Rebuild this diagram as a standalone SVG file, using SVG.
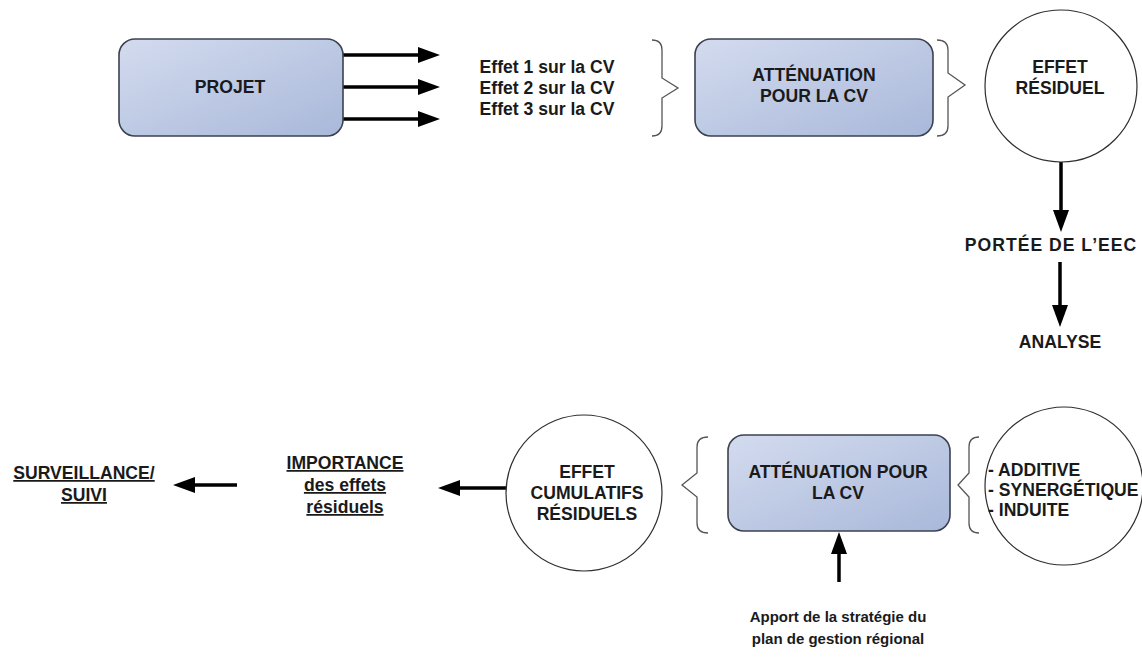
<svg xmlns="http://www.w3.org/2000/svg" width="1142" height="667" viewBox="0 0 1142 667">
  <defs>
    <linearGradient id="boxfill" x1="0" y1="0" x2="1" y2="1">
      <stop offset="0" stop-color="#d3dbee"/>
      <stop offset="1" stop-color="#a9b8da"/>
    </linearGradient>
    <marker id="ah" viewBox="0 0 22 16" refX="10" refY="8" markerWidth="22" markerHeight="16" markerUnits="userSpaceOnUse" orient="auto">
      <path d="M0,0 L22,8 L0,16 z" fill="#000"/>
    </marker>
    <style>
      .box { fill: url(#boxfill); stroke: #3c4150; stroke-width: 1.6; }
      .circ { fill: #fff; stroke: #2e2e2e; stroke-width: 1.2; }
      .brace { fill: none; stroke: #555; stroke-width: 1.3; }
      .arrow { stroke: #000; stroke-width: 3.5; fill: none; marker-end: url(#ah); }
      .t { font-family: "Liberation Sans", Arial, sans-serif; font-weight: bold; font-size: 17.6px; fill: #1a1a1a; text-anchor: middle; }
      .ts { font-size: 15px; }
      .u { text-decoration: underline; }
      .l { text-anchor: start; }
    </style>
  </defs>
  <rect width="1142" height="667" fill="#fff"/>

  <g id="connectors">
    <line class="arrow" x1="343" y1="55" x2="428" y2="55"/>
    <line class="arrow" x1="343" y1="87" x2="428" y2="87"/>
    <line class="arrow" x1="343" y1="119" x2="428" y2="119"/>
    <line class="arrow" x1="1061" y1="162" x2="1061" y2="220"/>
    <line class="arrow" x1="1060" y1="262" x2="1060" y2="315"/>
    <line class="arrow" x1="237" y1="485" x2="185" y2="485"/>
    <line class="arrow" x1="507" y1="488" x2="450" y2="488"/>
    <line class="arrow" x1="839" y1="582" x2="839" y2="544"/>
  </g>

  <g id="projet">
    <rect class="box" x="119" y="39" width="224" height="97" rx="16"/>
    <text class="t" x="230" y="93">PROJET</text>
  </g>

  <g id="effets">
    <text class="t" x="547" y="73">Effet 1 sur la CV</text>
    <text class="t" x="547" y="94">Effet 2 sur la CV</text>
    <text class="t" x="547" y="115">Effet 3 sur la CV</text>
  </g>

  <g id="brace1">
    <path class="brace" d="M652,40 Q662,40 662,50 L662,78 L678,88 L662,98 L662,126 Q662,136 652,136"/>
  </g>

  <g id="attenuation1">
    <rect class="box" x="695" y="39" width="238" height="97" rx="16"/>
    <text class="t" x="814" y="81">ATTÉNUATION</text>
    <text class="t" x="814" y="102">POUR LA CV</text>
  </g>

  <g id="brace2">
    <path class="brace" d="M937,40 Q948,40 948,50 L948,73 L965,85 L948,97 L948,126 Q948,136 937,136"/>
  </g>

  <g id="effet-residuel">
    <circle class="circ" cx="1061" cy="86" r="76"/>
    <text class="t" x="1060" y="73">EFFET</text>
    <text class="t" x="1060" y="94">RÉSIDUEL</text>
  </g>

  <g id="portee">
    <text class="t" x="1051" y="251" letter-spacing="1">PORTÉE DE L’EEC</text>
  </g>

  <g id="analyse">
    <text class="t" x="1060" y="348">ANALYSE</text>
  </g>

  <g id="surveillance">
    <text class="t u" x="84" y="479">SURVEILLANCE/</text>
    <text class="t u" x="84" y="501">SUIVI</text>
  </g>

  <g id="importance">
    <text class="t u" x="345" y="469">IMPORTANCE</text>
    <text class="t u" x="345" y="491">des effets</text>
    <text class="t u" x="345" y="513">résiduels</text>
  </g>

  <g id="effet-cumulatifs">
    <circle class="circ" cx="584" cy="493" r="78"/>
    <text class="t" x="587" y="478">EFFET</text>
    <text class="t" x="587" y="499">CUMULATIFS</text>
    <text class="t" x="587" y="520">RÉSIDUELS</text>
  </g>

  <g id="brace3">
    <path class="brace" d="M708,437 Q697,437 697,447 L697,473 L682,485 L697,497 L697,523 Q697,533 708,533"/>
  </g>

  <g id="attenuation2">
    <rect class="box" x="728" y="435" width="222" height="96" rx="16"/>
    <text class="t" x="838" y="478">ATTÉNUATION POUR</text>
    <text class="t" x="838" y="499">LA CV</text>
  </g>

  <g id="brace4">
    <path class="brace" d="M979,437 Q969,437 969,447 L969,473 L958,485 L969,497 L969,523 Q969,533 979,533"/>
  </g>

  <g id="types">
    <circle class="circ" cx="1064" cy="486" r="79"/>
    <text class="t l" x="988" y="476">- ADDITIVE</text>
    <text class="t l" x="988" y="496">- SYNERGÉTIQUE</text>
    <text class="t l" x="988" y="516">- INDUITE</text>
  </g>

  <g id="apport">
    <text class="t ts" x="838" y="622">Apport de la stratégie du</text>
    <text class="t ts" x="838" y="644">plan de gestion régional</text>
  </g>
</svg>
